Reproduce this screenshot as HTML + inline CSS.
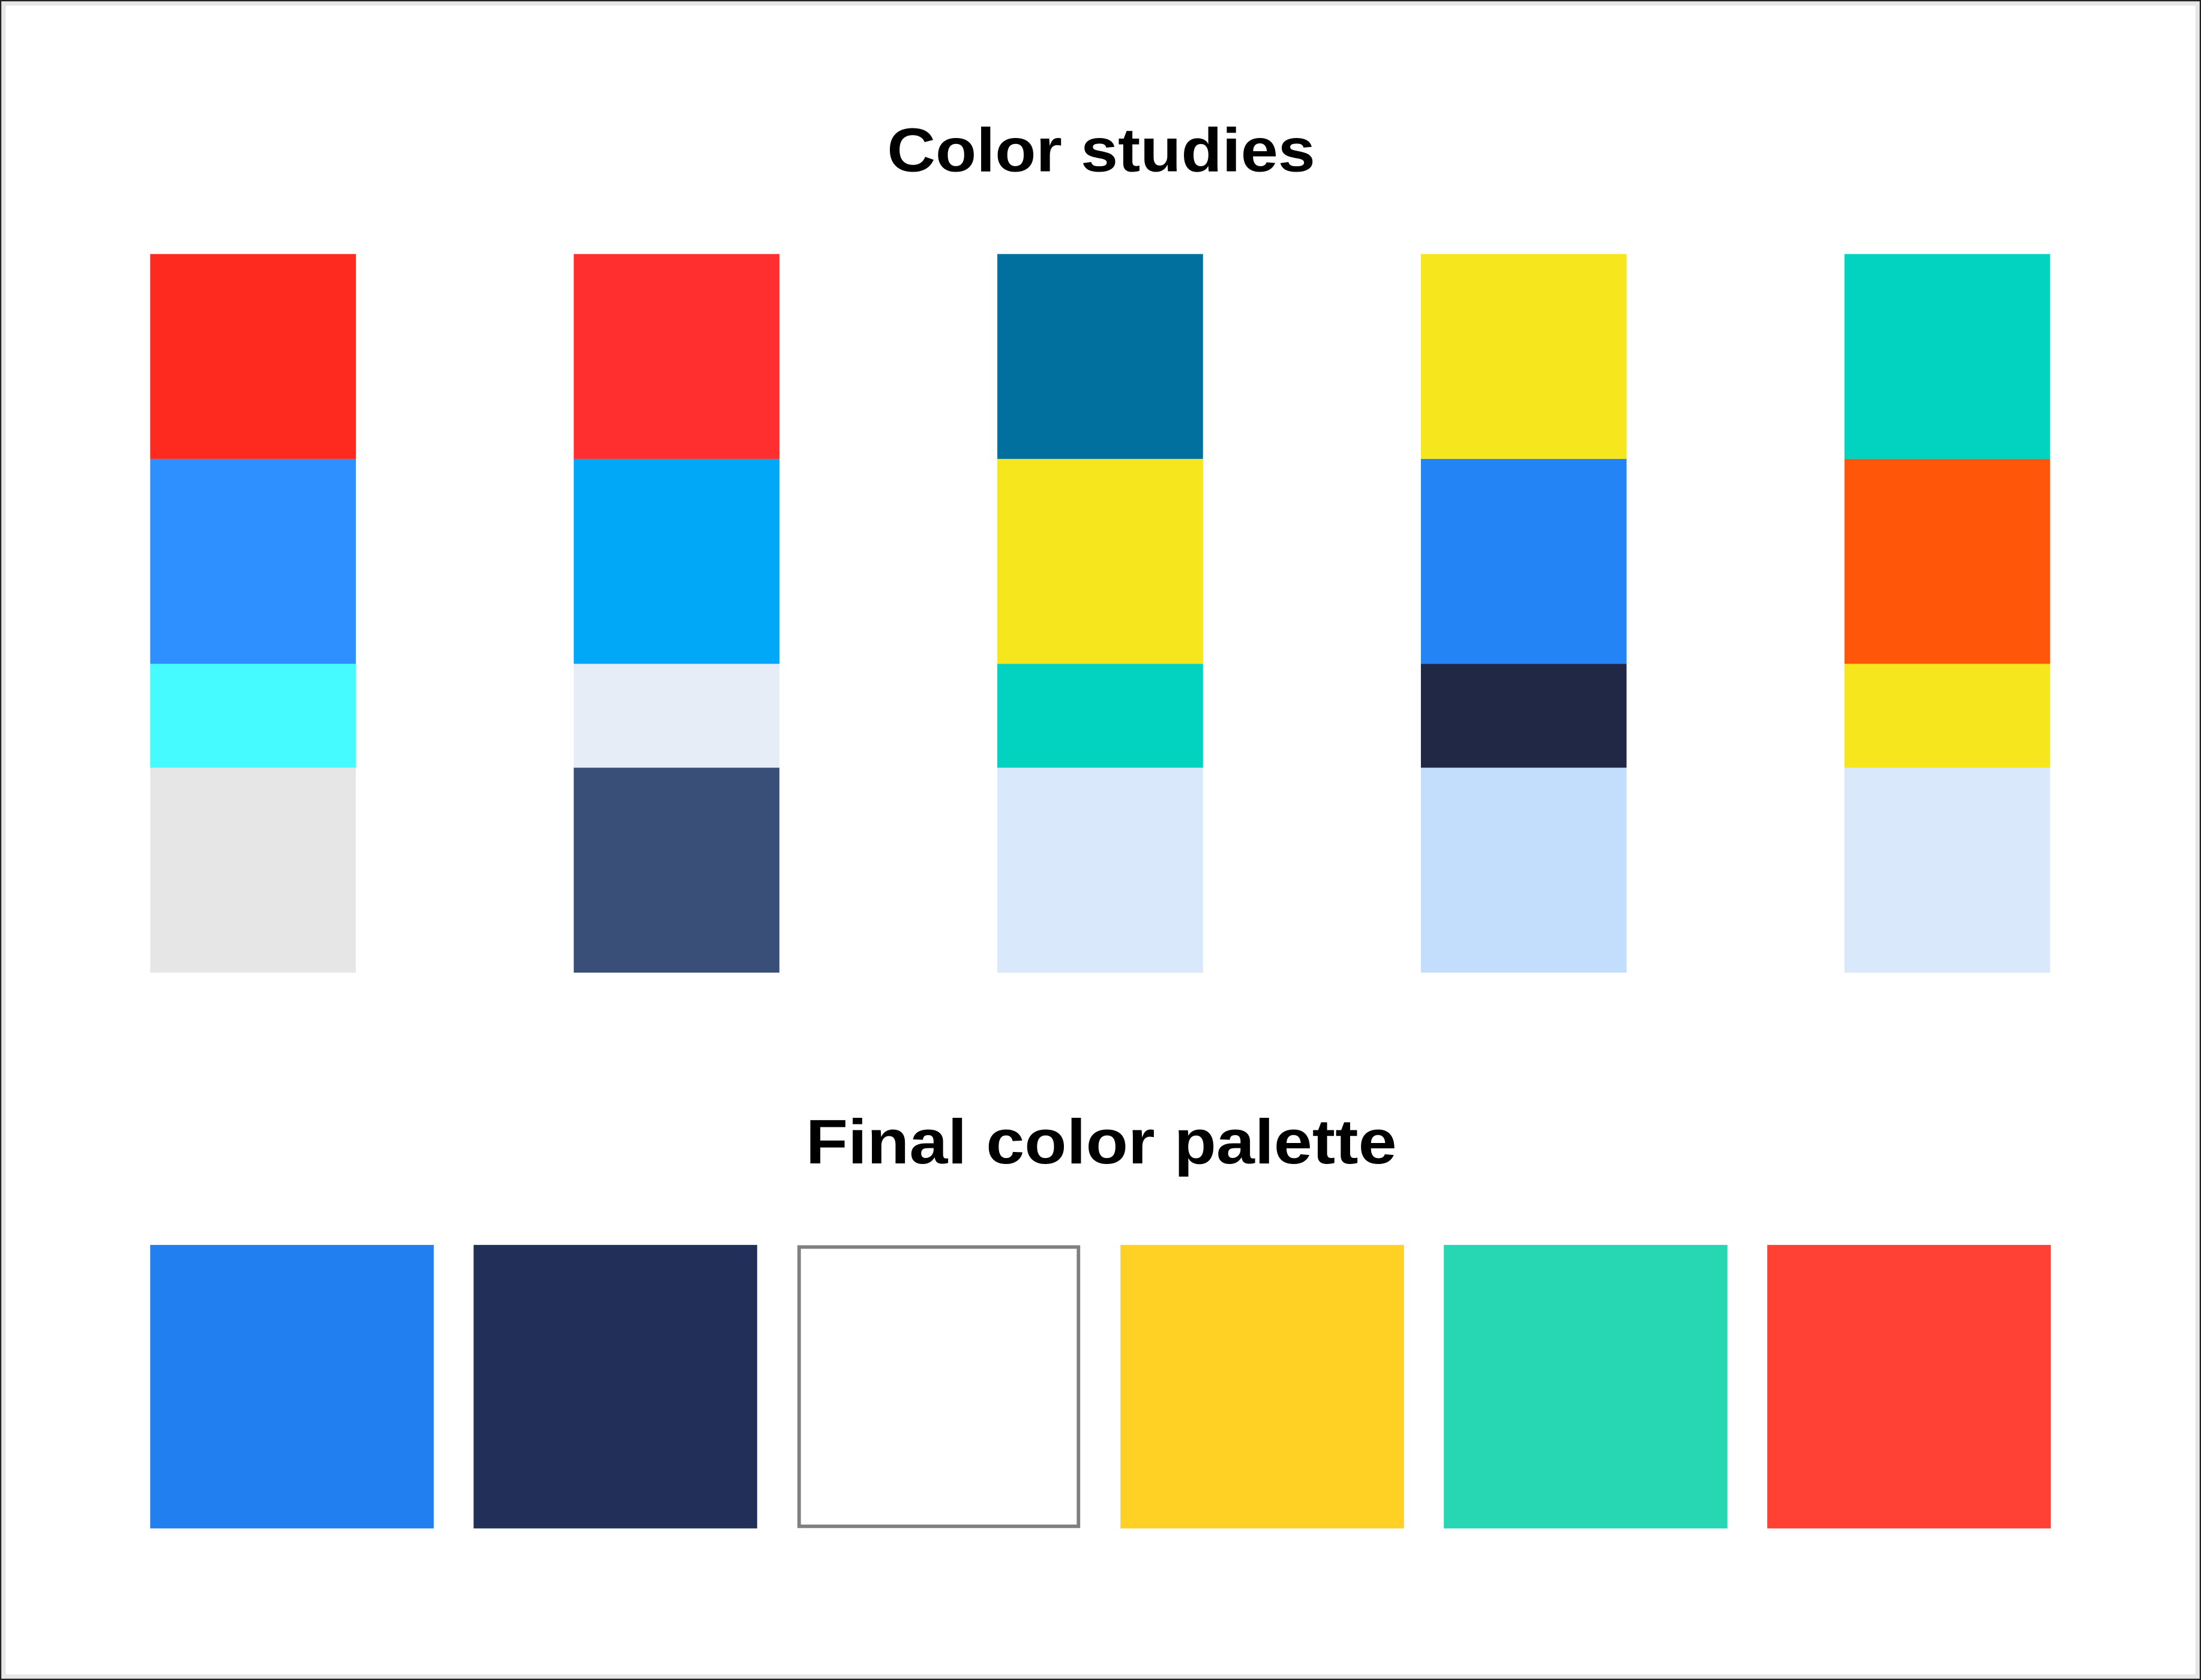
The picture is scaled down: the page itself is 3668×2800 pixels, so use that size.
<!DOCTYPE html>
<html>
<head>
<meta charset="utf-8">
<style>
  html,body{margin:0;padding:0;background:#fff;}
  svg{display:block;}
  text{font-family:"Liberation Sans",sans-serif;font-weight:bold;fill:#000;}
</style>
</head>
<body>
<svg id="chart" width="3668" height="2800" viewBox="0 0 1568 1197" preserveAspectRatio="none" xmlns="http://www.w3.org/2000/svg">
  <rect x="0" y="0" width="1568" height="1197" fill="#ffffff"/>
  <rect x="0.5" y="0.5" width="1567" height="1196" fill="none" stroke="#222" stroke-width="1"/>
  <rect x="2.5" y="2.5" width="1563" height="1192" fill="none" stroke="#e6e6e6" stroke-width="3"/>
  <text x="632" y="122" font-size="44" textLength="305" lengthAdjust="spacingAndGlyphs">Color studies</text>
  <text x="574" y="829" font-size="45" textLength="421" lengthAdjust="spacingAndGlyphs">Final color palette</text>
  <g id="studies"></g>
  <g id="palette"></g>
</svg>
<script>
const studyNames = ["study-1","study-2","study-3","study-4","study-5"];
const study1 = ["#ff2a1f","#2e90ff","#45fbff","#e6e6e6"];
const study2 = ["#ff2f2f","#00a8f7","#e6edf7","#394f78"];
const study3 = ["#02709e","#f6e61e","#02d2c0","#d9e8fa"];
const study4 = ["#f6e61e","#2284f5","#202846","#c3ddfc"];
const study5 = ["#02d2c0","#ff560a","#f6e61e","#d9e8fa"];
const studies = [study1,study2,study3,study4,study5];
const bandHeights = [146,146,74,146];
const paletteNames = ["blue","navy","white","yellow","teal","red"];
const paletteColors = ["#217ff0","#222f58","#ffffff","#ffd124","#27d6b2","#ff4034"];

const NS = "http://www.w3.org/2000/svg";
const gS = document.getElementById("studies");
const colX0 = 107, colStep = 301.75, colW = 146.5, top0 = 181;
studies.forEach((cols, i) => {
  let y = top0;
  cols.forEach((c, j) => {
    const r = document.createElementNS(NS, "rect");
    r.setAttribute("x", colX0 + i * colStep);
    r.setAttribute("y", y);
    r.setAttribute("width", colW);
    r.setAttribute("height", bandHeights[j]);
    r.setAttribute("fill", c);
    
    
    gS.appendChild(r);
    y += bandHeights[j];
  });
});

const gP = document.getElementById("palette");
const pX0 = 107, pStep = 230.4, pW = 202, pY = 887, pH = 202;
paletteColors.forEach((c, i) => {
  const r = document.createElementNS(NS, "rect");
  const isWhite = c.toLowerCase() === "#ffffff";
  r.setAttribute("x", pX0 + i * pStep + (isWhite ? 1.5 : 0));
  r.setAttribute("y", pY + (isWhite ? 1.5 : 0));
  r.setAttribute("width", pW - (isWhite ? 3 : 0));
  r.setAttribute("height", pH - (isWhite ? 3 : 0));
  r.setAttribute("fill", c);
  if (isWhite) { r.setAttribute("stroke", "#808080"); r.setAttribute("stroke-width", "2.5"); }
  
  
  gP.appendChild(r);
});
</script>
</body>
</html>
